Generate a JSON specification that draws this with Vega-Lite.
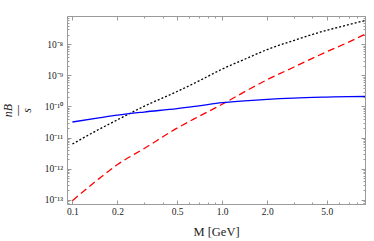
{
  "$schema": "https://vega.github.io/schema/vega-lite/v6.json",
  "width": 298,
  "height": 188,
  "autosize": {"type": "none"},
  "padding": {"left": 67, "top": 16, "right": 9, "bottom": 37},
  "background": "white",
  "config": {
    "view": {"stroke": null},
    "axis": {
      "labelFont": "Liberation Serif",
      "titleFont": "Liberation Serif",
      "labelFontSize": 9.5,
      "titleFontSize": 12.5,
      "titleFontWeight": "normal",
      "labelColor": "#222",
      "titleColor": "#222",
      "domainColor": "#9a9a9a",
      "tickColor": "#9a9a9a",
      "grid": false
    }
  },
  "datasets": {
    "curves": [
      {"M": 0.1, "series": "solid", "v": 3.16e-11},
      {"M": 0.15, "series": "solid", "v": 4.27e-11},
      {"M": 0.2, "series": "solid", "v": 5.25e-11},
      {"M": 0.3, "series": "solid", "v": 6.61e-11},
      {"M": 0.5, "series": "solid", "v": 8.51e-11},
      {"M": 0.7, "series": "solid", "v": 1.047e-10},
      {"M": 1.0, "series": "solid", "v": 1.318e-10},
      {"M": 1.5, "series": "solid", "v": 1.549e-10},
      {"M": 2.0, "series": "solid", "v": 1.698e-10},
      {"M": 3.0, "series": "solid", "v": 1.862e-10},
      {"M": 5.0, "series": "solid", "v": 1.995e-10},
      {"M": 7.0, "series": "solid", "v": 2.065e-10},
      {"M": 9.0, "series": "solid", "v": 2.089e-10},
      {"M": 0.1, "series": "dotted", "v": 6.17e-12},
      {"M": 0.15, "series": "dotted", "v": 1.82e-11},
      {"M": 0.2, "series": "dotted", "v": 3.72e-11},
      {"M": 0.3, "series": "dotted", "v": 1.0e-10},
      {"M": 0.5, "series": "dotted", "v": 3.02e-10},
      {"M": 0.7, "series": "dotted", "v": 6.61e-10},
      {"M": 1.0, "series": "dotted", "v": 1.585e-9},
      {"M": 1.5, "series": "dotted", "v": 3.72e-9},
      {"M": 2.0, "series": "dotted", "v": 6.76e-9},
      {"M": 3.0, "series": "dotted", "v": 1.318e-8},
      {"M": 5.0, "series": "dotted", "v": 2.82e-8},
      {"M": 7.0, "series": "dotted", "v": 4.27e-8},
      {"M": 9.0, "series": "dotted", "v": 5.75e-8},
      {"M": 0.1, "series": "dashed", "v": 9.33e-14},
      {"M": 0.15, "series": "dashed", "v": 4.68e-13},
      {"M": 0.2, "series": "dashed", "v": 1.349e-12},
      {"M": 0.3, "series": "dashed", "v": 4.37e-12},
      {"M": 0.5, "series": "dashed", "v": 2.0e-11},
      {"M": 0.7, "series": "dashed", "v": 4.79e-11},
      {"M": 1.0, "series": "dashed", "v": 1.175e-10},
      {"M": 1.5, "series": "dashed", "v": 3.47e-10},
      {"M": 2.0, "series": "dashed", "v": 7.24e-10},
      {"M": 3.0, "series": "dashed", "v": 1.82e-9},
      {"M": 5.0, "series": "dashed", "v": 5.75e-9},
      {"M": 7.0, "series": "dashed", "v": 1.175e-8},
      {"M": 9.0, "series": "dashed", "v": 2.09e-8}
    ]
  },
  "data": {"name": "curves"},
  "layer": [
    {
      "transform": [{"filter": "datum.series === 'dashed'"}],
      "mark": {"type": "line", "color": "#ff0000", "strokeWidth": 1.3, "strokeDash": [7, 4], "interpolate": "monotone", "clip": true},
      "encoding": {
        "x": {
          "field": "M", "type": "quantitative",
          "scale": {"type": "log", "domain": [0.092, 9.0], "nice": false, "zero": false},
          "axis": {
            "orient": "bottom",
            "title": "M [GeV]",
            "titlePadding": 8,
            "values": [0.1, 0.2, 0.3, 0.4, 0.5, 0.6, 0.7, 0.8, 0.9, 1, 2, 3, 4, 5, 6, 7, 8, 9],
            "labelExpr": "indexof([0.1, 0.2, 0.5, 1, 2, 5], datum.value) >= 0 ? format(datum.value, '.1f') : ''",
            "tickSize": {"condition": {"test": "indexof([0.1, 0.2, 0.5, 1, 2, 5], datum.value) >= 0", "value": -4}, "value": -2},
            "labelPadding": 6,
            "labelFlush": false,
            "labelOverlap": false
          }
        },
        "y": {
          "field": "v", "type": "quantitative",
          "scale": {"type": "log", "domain": [7.28e-14, 8.1e-8], "nice": false, "zero": false},
          "axis": {
            "orient": "left",
            "title": ["nB", "—", "s"],
            "titleFontStyle": "italic",
            "titleFontSize": 12,
            "titleLineHeight": 9.5,
            "titlePadding": 11,
            "values": [8e-14, 9e-14, 1e-13, 2e-13, 3e-13, 4e-13, 5e-13, 6e-13, 7e-13, 8e-13, 9e-13, 1e-12, 2e-12, 3e-12, 4e-12, 5e-12, 6e-12, 7e-12, 8e-12, 9e-12, 1e-11, 2e-11, 3e-11, 4e-11, 5e-11, 6e-11, 7e-11, 8e-11, 9e-11, 1e-10, 2e-10, 3e-10, 4e-10, 5e-10, 6e-10, 7e-10, 8e-10, 9e-10, 1e-9, 2e-9, 3e-9, 4e-9, 5e-9, 6e-9, 7e-9, 8e-9, 9e-9, 1e-8, 2e-8, 3e-8, 4e-8, 5e-8, 6e-8, 7e-8, 8e-8],
            "labelExpr": "abs(datum.value / pow(10, round(log(datum.value) / LN10)) - 1) < 0.01 ? ('10⁻' + (-round(log(datum.value) / LN10) >= 10 ? '¹' + substring('⁰¹²³⁴⁵⁶⁷⁸⁹', -round(log(datum.value) / LN10) - 10, -round(log(datum.value) / LN10) - 9) : substring('⁰¹²³⁴⁵⁶⁷⁸⁹', -round(log(datum.value) / LN10), -round(log(datum.value) / LN10) + 1))) : ''",
            "tickSize": {"condition": {"test": "abs(datum.value / pow(10, round(log(datum.value) / LN10)) - 1) < 0.01", "value": -4}, "value": -2},
            "labelPadding": 8.5,
            "labelFlush": false,
            "labelOverlap": false
          }
        }
      }
    },
    {
      "transform": [{"filter": "datum.series === 'dotted'"}],
      "mark": {"type": "line", "color": "#000000", "strokeWidth": 1.3, "strokeDash": [2, 2], "interpolate": "monotone", "clip": true},
      "encoding": {
        "x": {
          "field": "M", "type": "quantitative",
          "scale": {"type": "log", "domain": [0.092, 9.0], "nice": false, "zero": false},
          "axis": {
            "orient": "top",
            "title": null,
            "labels": false,
            "values": [0.1, 0.2, 0.3, 0.4, 0.5, 0.6, 0.7, 0.8, 0.9, 1, 2, 3, 4, 5, 6, 7, 8, 9],
            "tickSize": {"condition": {"test": "indexof([0.1, 0.2, 0.5, 1, 2, 5], datum.value) >= 0", "value": -4}, "value": -2}
          }
        },
        "y": {
          "field": "v", "type": "quantitative",
          "scale": {"type": "log", "domain": [7.28e-14, 8.1e-8], "nice": false, "zero": false},
          "axis": {
            "orient": "right",
            "title": null,
            "labels": false,
            "values": [8e-14, 9e-14, 1e-13, 2e-13, 3e-13, 4e-13, 5e-13, 6e-13, 7e-13, 8e-13, 9e-13, 1e-12, 2e-12, 3e-12, 4e-12, 5e-12, 6e-12, 7e-12, 8e-12, 9e-12, 1e-11, 2e-11, 3e-11, 4e-11, 5e-11, 6e-11, 7e-11, 8e-11, 9e-11, 1e-10, 2e-10, 3e-10, 4e-10, 5e-10, 6e-10, 7e-10, 8e-10, 9e-10, 1e-9, 2e-9, 3e-9, 4e-9, 5e-9, 6e-9, 7e-9, 8e-9, 9e-9, 1e-8, 2e-8, 3e-8, 4e-8, 5e-8, 6e-8, 7e-8, 8e-8],
            "tickSize": {"condition": {"test": "abs(datum.value / pow(10, round(log(datum.value) / LN10)) - 1) < 0.01", "value": -4}, "value": -2}
          }
        }
      }
    },
    {
      "transform": [{"filter": "datum.series === 'solid'"}],
      "mark": {"type": "line", "color": "#0000ff", "strokeWidth": 1.3, "interpolate": "monotone", "clip": true},
      "encoding": {
        "x": {"field": "M", "type": "quantitative", "scale": {"type": "log", "domain": [0.092, 9.0], "nice": false, "zero": false}, "axis": null},
        "y": {"field": "v", "type": "quantitative", "scale": {"type": "log", "domain": [7.28e-14, 8.1e-8], "nice": false, "zero": false}, "axis": null}
      }
    }
  ],
  "resolve": {"axis": {"x": "independent", "y": "independent"}}
}
